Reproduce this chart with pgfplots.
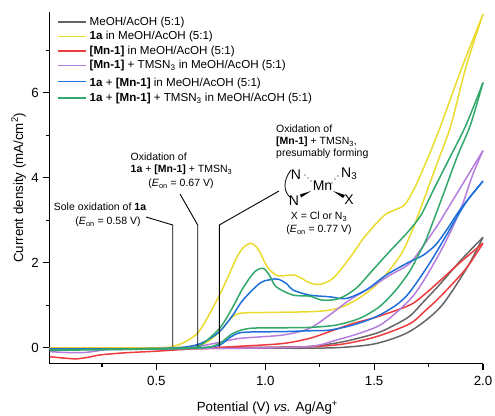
\documentclass[border=0pt]{standalone}
\usepackage{pgfplots}
\usepackage{fontspec}
\setmainfont{Liberation Sans}
\pgfplotsset{compat=1.18}
\definecolor{cgray}{HTML}{666666}
\definecolor{cyellow}{HTML}{EADB2E}
\definecolor{cred}{HTML}{EE3B3F}
\definecolor{cpurple}{HTML}{B57EDC}
\definecolor{cblue}{HTML}{1F6FDB}
\definecolor{cgreen}{HTML}{2FA86A}
\newcommand{\fs}[1]{\fontsize{#1}{#1}\selectfont}
\newcommand{\Eon}{(\textit{E}\textsubscript{on}}
\begin{document}
\begin{tikzpicture}
\useasboundingbox (0pt,0pt) rectangle (495pt,-415pt);
\begin{axis}[
  at={(49.7pt,-363.5pt)}, anchor=south west,
  scale only axis, width=433.3pt, height=351.5pt,
  xmin=0.01, xmax=2.0, ymin=-0.37, ymax=7.9,
  axis lines=left, axis line style={-, line width=1.3pt, black},
  clip=false,
  xtick={0.5,1,1.5,2}, xticklabels={0.5,1.0,1.5,2.0},
  minor xtick={0.25,0.75,1.25,1.75},
  ytick={0,2,4,6}, yticklabels={0,2,4,6},
  minor ytick={1,3,5,7},
  tick style={black, line width=1.1pt},
  major tick length=6.5pt, minor tick length=3.5pt,
  tick align=outside,
  ticklabel style={font=\fs{13.3}},
  xticklabel style={yshift=-3pt},
  yticklabel style={xshift=-1pt},
  xlabel={Potential (V) \textit{vs.} Ag/Ag\textsuperscript{+}},
  xlabel style={font=\fs{13.3}, at={(axis description cs:0.5,0)}, anchor=center, yshift=-44.5pt, xshift=1pt},
  ylabel={Current density (mA/cm\textsuperscript{2})},
  ylabel style={font=\fs{13.3}, at={(axis description cs:0,0.5)}, anchor=center, rotate=0, yshift=31pt},
  legend cell align=left,
  legend style={draw=none, fill=none, at={(axis description cs:0.0185,0.986)}, anchor=north west,
    font=\fs{11.6}, inner sep=0pt, outer sep=0pt, row sep=4.6pt,
    nodes={inner sep=0pt, outer sep=0pt}},
  legend image code/.code={\draw[#1, line width=1.4pt] (0pt,0pt) -- (27.5pt,0pt); \path (30.5pt,0pt);},
  every axis plot/.append style={line width=1.5pt, smooth, tension=0.5, no marks},
]
% gray
\addplot[cgray] coordinates {(0.01,0.0)(0.5,-0.01)(1.0,-0.01)(1.203,-0.01)(1.356,0.01)(1.509,0.1)(1.662,0.38)(1.803,0.95)(1.925,1.87)(2.0,2.6)};
\addlegendentry{MeOH/AcOH (5:1)}
\addplot[cgray,forget plot] coordinates {(2.0,2.6)(1.9,2.07)(1.803,1.5)(1.73,1.1)(1.662,0.74)(1.58,0.5)(1.509,0.34)(1.356,0.14)(1.2,0.03)(1.0,0.01)(0.5,0.0)(0.01,0.0)};
% yellow
\addplot[cyellow] coordinates {(0.01,0.0)(0.5,0.0)(0.58,0.04)(0.64,0.16)(0.70,0.417)(0.79,1.24)(0.867,2.1)(0.90,2.36)(0.936,2.456)(0.97,2.3)(1.01,1.9)(1.058,1.695)(1.135,1.71)(1.203,1.53)(1.249,1.49)(1.31,1.63)(1.386,2.10)(1.455,2.6)(1.543,3.1)(1.593,3.24)(1.639,3.36)(1.685,3.75)(1.746,4.456)(1.807,5.24)(1.9,6.55)(2.0,7.85)};
\addlegendentry{\textbf{1a} in MeOH/AcOH (5:1)}
\addplot[cyellow,forget plot] coordinates {(2.0,7.85)(1.922,6.61)(1.853,5.24)(1.792,4.38)(1.73,3.51)(1.685,2.89)(1.647,2.43)(1.616,2.14)(1.539,1.63)(1.463,1.28)(1.371,1.0)(1.295,0.887)(1.203,0.848)(1.0,0.83)(0.882,0.81)(0.84,0.68)(0.79,0.38)(0.74,0.16)(0.70,0.064)(0.62,0.01)(0.5,0.0)(0.01,0.0)};
% red
\addplot[cred] coordinates {(0.01,-0.21)(0.07,-0.24)(0.133,-0.26)(0.19,-0.22)(0.24,-0.17)(0.35,-0.12)(0.5,-0.08)(0.7,-0.015)(0.897,0.04)(1.08,0.10)(1.203,0.22)(1.295,0.38)(1.402,0.57)(1.509,0.72)(1.662,1.0)(1.73,1.25)(1.803,1.58)(1.9,2.03)(2.0,2.46)};
\addlegendentry{\textbf{[Mn-1]} in MeOH/AcOH (5:1)}
\addplot[cred,forget plot] coordinates {(2.0,2.46)(1.92,1.85)(1.803,1.2)(1.73,0.85)(1.662,0.56)(1.509,0.26)(1.356,0.087)(1.203,0.025)(0.9,0.0)(0.7,-0.02)(0.5,-0.02)(0.01,-0.02)};
% purple
\addplot[cpurple] coordinates {(0.01,-0.09)(0.08,-0.11)(0.16,-0.115)(0.22,-0.08)(0.286,-0.04)(0.5,-0.03)(0.65,0.0)(0.79,0.127)(0.882,0.22)(1.08,0.30)(1.203,0.456)(1.295,0.77)(1.386,1.12)(1.478,1.4)(1.57,1.7)(1.662,1.98)(1.73,2.43)(1.792,2.89)(1.853,3.4)(1.93,4.05)(2.0,4.64)};
\addlegendentry{\textbf{[Mn-1]} + TMSN\textsubscript{3} in MeOH/AcOH (5:1)}
\addplot[cpurple,forget plot] coordinates {(2.0,4.64)(1.952,4.06)(1.899,3.28)(1.822,2.43)(1.73,1.6)(1.662,1.12)(1.539,0.57)(1.432,0.34)(1.325,0.18)(1.203,0.03)(0.9,-0.01)(0.6,-0.02)(0.286,-0.03)(0.01,-0.03)};
% blue
\addplot[cblue] coordinates {(0.01,-0.03)(0.5,-0.02)(0.65,0.03)(0.72,0.14)(0.79,0.38)(0.85,0.76)(0.897,1.12)(0.974,1.515)(1.02,1.6)(1.058,1.617)(1.10,1.5)(1.127,1.36)(1.203,1.24)(1.295,1.2)(1.371,1.16)(1.463,1.36)(1.555,1.71)(1.662,2.02)(1.726,2.18)(1.784,2.43)(1.838,2.81)(1.899,3.28)(2.0,3.92)};
\addlegendentry{\rule[0pt]{0pt}{12pt}\textbf{1a} + \textbf{[Mn-1]} in MeOH/AcOH (5:1)}
\addplot[cblue,forget plot] coordinates {(2.0,3.92)(1.93,3.48)(1.868,2.97)(1.83,2.63)(1.75,1.95)(1.662,1.3)(1.6,1.0)(1.509,0.73)(1.402,0.534)(1.295,0.416)(1.203,0.40)(1.08,0.38)(0.897,0.362)(0.84,0.25)(0.79,0.064)(0.7,0.0)(0.5,-0.02)(0.01,-0.03)};
% green
\addplot[cgreen] coordinates {(0.01,-0.05)(0.5,-0.02)(0.64,0.0)(0.70,0.05)(0.79,0.456)(0.85,0.95)(0.897,1.4)(0.95,1.78)(0.99,1.87)(1.02,1.7)(1.05,1.435)(1.127,1.24)(1.203,1.216)(1.264,1.12)(1.34,1.16)(1.417,1.4)(1.494,1.83)(1.57,2.26)(1.654,2.72)(1.715,3.12)(1.776,3.75)(1.853,4.53)(1.922,5.24)(2.0,6.24)};
\addlegendentry{\textbf{1a} + \textbf{[Mn-1]} + TMSN\textsubscript{3} in MeOH/AcOH (5:1)}
\addplot[cgreen,forget plot] coordinates {(2.0,6.24)(1.942,5.24)(1.884,4.53)(1.822,3.67)(1.776,3.04)(1.735,2.5)(1.70,2.15)(1.662,1.79)(1.6,1.36)(1.524,0.965)(1.432,0.69)(1.325,0.534)(1.203,0.479)(1.08,0.47)(0.928,0.456)(0.852,0.34)(0.79,0.103)(0.72,0.0)(0.5,-0.03)(0.01,-0.06)};
\end{axis}
\begin{scope}[x=1pt,y=-1pt]
  % leaders
  \draw[line width=0.9pt] (146,217) -- (172.7,225) -- (172.7,346.7);
  \draw[line width=0.9pt] (180,194) -- (197.7,225) -- (197.7,346.7);
  \draw[line width=0.9pt] (279,191) -- (219.3,225) -- (219.3,346.7);
  % annotations
  \node[font=\fs{10.5}, anchor=center] at (100,206.5) {Sole oxidation of \textbf{1a}};
  \node[font=\fs{10.5}, anchor=center] at (108,222) {\Eon{} = 0.58 V)};
  \node[font=\fs{10.5}, anchor=west, inner sep=0pt] at (130.5,157) {Oxidation of};
  \node[font=\fs{10.5}, anchor=west, inner sep=0pt] at (130.5,170) {\textbf{1a} + \textbf{[Mn-1]} + TMSN\textsubscript{3}};
  \node[font=\fs{10.5}, anchor=center] at (181,184) {\Eon{} = 0.67 V)};
  \node[font=\fs{10.5}, anchor=west, inner sep=0pt] at (276,128.5) {Oxidation of};
  \node[font=\fs{10.5}, anchor=west, inner sep=0pt] at (276,142) {\textbf{[Mn-1]} + TMSN\textsubscript{3},};
  \node[font=\fs{10.5}, anchor=west, inner sep=0pt] at (276,154) {presumably forming};
  % structure
  \node[font=\fs{14}, inner sep=0pt] at (296,174.5) {N};
  \node[font=\fs{14}, inner sep=0pt] at (294,200.5) {N};
  \node[font=\fs{14}, inner sep=0pt] at (322.5,185.5) {Mn};
  \node[font=\fs{14}, inner sep=0pt, anchor=west] at (341,174) {N\textsubscript{3}};
  \node[font=\fs{14}, inner sep=0pt] at (349,200) {X};
  \draw[line width=0.8pt] (291,170) .. controls (283,180) and (283,192) .. (291,198);
  \fill (311,191) -- (300,194.5) -- (301,197.5) -- cycle;
  \fill (333,191) -- (345,195) -- (343,198) -- cycle;
  \fill (305,175) circle (0.6) (308,178) circle (0.6) (311,181) circle (0.6);
  \fill (338,176) circle (0.6) (335,179) circle (0.6) (332,183) circle (0.6);
  \node[font=\fs{10.5}, anchor=center] at (319,217) {X = Cl or N\textsubscript{3}};
  \node[font=\fs{10.5}, anchor=center] at (319,230) {\Eon{} = 0.77 V)};
\end{scope}
\end{tikzpicture}
\end{document}
